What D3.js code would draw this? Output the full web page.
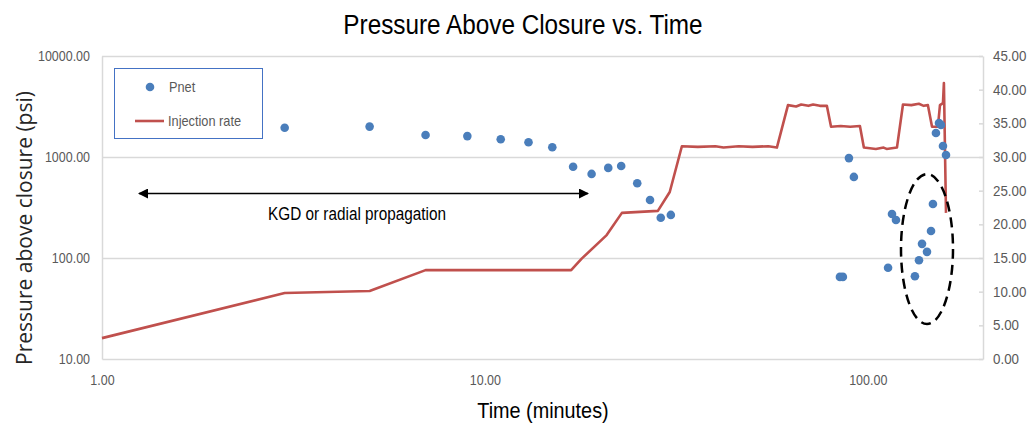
<!DOCTYPE html>
<html>
<head>
<meta charset="utf-8">
<script src="https://cdn.jsdelivr.net/npm/d3@7"></script>
<style>
  html, body { margin: 0; padding: 0; background: #ffffff; }
  svg { display: block; }
</style>
</head>
<body>
<svg id="chart" width="1029" height="427"></svg>
<script>
// Net pressure above closure (left, log axis) and pump rate (right axis) vs. time (log axis)
const pnetTime = [3, 5, 7, 9, 11, 13, 15, 17, 19, 21, 22.7, 25, 27, 28.8, 30.6,
  84.6, 86.1, 89.3, 92, 113, 115.7, 118.5, 132.8, 136.1, 138.6, 142.8, 146.3, 148,
  150.7, 153.5, 155.3, 157.2, 160.1];
const pnetValue = [1950, 2000, 1650, 1610, 1500, 1400, 1250, 800, 680, 780, 815, 550, 375, 250, 267,
  65, 65, 975, 635, 80, 273, 238, 66, 95, 138, 115, 185, 343,
  1730, 2170, 2080, 1285, 1045];

const rateTime = [1, 3, 5, 7, 16.8, 17.9, 20.8, 22.8, 28.3, 30.4, 32.7,
  36, 40, 42, 46, 50, 55, 57.9, 61.9, 65, 67, 70, 72, 75, 78.2,
  80.2, 85, 90, 95.4, 97.7, 105, 110, 112, 119.2,
  123.6, 130, 136, 140, 143.6, 147.2, 152.5, 154.4, 157.2, 158.1, 160.1];
const rateValue = [3.1, 9.8, 10.1, 13.2, 13.2, 14.9, 18.4, 21.7, 22.0, 24.8, 31.6,
  31.5, 31.6, 31.4, 31.6, 31.5, 31.6, 31.4, 37.7, 37.5, 37.8, 37.6, 37.8, 37.6, 37.6,
  34.5, 34.6, 34.5, 34.6, 31.4, 31.2, 31.4, 31.2, 31.4,
  37.8, 37.7, 37.9, 37.6, 37.7, 34.5, 34.5, 37.7, 38.0, 41.0, 21.7];

const xTicks = [1, 10, 100];
const leftTicks = [10, 100, 1000, 10000];
const rightTicks = [0, 5, 10, 15, 20, 25, 30, 35, 40, 45];

const svg = d3.select("#chart");
const sans = "'Liberation Sans', Arial, sans-serif";

// Condense a text selection horizontally (narrow face look)
function condense(sel, factor) {
  sel.each(function () {
    const len = this.getComputedTextLength();
    d3.select(this).attr("textLength", len * factor).attr("lengthAdjust", "spacingAndGlyphs");
  });
}

const plot = { left: 102, right: 983, top: 56, bottom: 359 };

const x = d3.scaleLog().domain([1, 200]).range([plot.left, plot.right]);
const yL = d3.scaleLog().domain([10, 10000]).range([plot.bottom, plot.top]);
const yR = d3.scaleLinear().domain([0, 45]).range([plot.bottom, plot.top]);

// Horizontal gridlines at the left-axis decades
svg.append("g")
  .selectAll("line")
  .data(leftTicks.slice(1))
  .join("line")
  .attr("x1", plot.left).attr("x2", plot.right)
  .attr("y1", d => Math.round(yL(d)) + 0.5).attr("y2", d => Math.round(yL(d)) + 0.5)
  .attr("stroke", "#d9d9d9").attr("stroke-width", 1.5);

// Left axis (labels only, line in light gray)
const leftAxis = d3.axisLeft(yL).tickValues(leftTicks).tickSize(0).tickPadding(12)
  .tickFormat(d3.format(".2f"));
const gL = svg.append("g").attr("transform", `translate(${plot.left},0)`).call(leftAxis);
gL.select(".domain").attr("stroke", "#d9d9d9").attr("stroke-width", 1.5);
gL.selectAll("text").attr("font-family", sans).attr("font-size", 14.5).attr("fill", "#595959")
  .call(condense, 0.86);

// Right axis
const rightAxis = d3.axisRight(yR).tickValues(rightTicks).tickSize(0).tickPadding(10)
  .tickFormat(d3.format(".2f"));
const gR = svg.append("g").attr("transform", `translate(${plot.right},0)`).call(rightAxis);
gR.select(".domain").attr("stroke", "#d9d9d9").attr("stroke-width", 1.5);
gR.selectAll("text").attr("font-family", sans).attr("font-size", 14.5).attr("fill", "#595959")
  .call(condense, 0.92);
gR.selectAll(".tick").append("line")
  .attr("x1", -4).attr("x2", 0).attr("stroke", "#d9d9d9").attr("stroke-width", 1.5);

// Bottom axis
const bottomAxis = d3.axisBottom(x).tickValues(xTicks).tickSize(0).tickPadding(16)
  .tickFormat(d3.format(".2f"));
const gB = svg.append("g").attr("transform", `translate(0,${plot.bottom})`).call(bottomAxis);
gB.select(".domain").attr("stroke", "#d9d9d9").attr("stroke-width", 1.5);
gB.selectAll("text").attr("font-family", sans).attr("font-size", 14.5).attr("fill", "#595959")
  .call(condense, 0.86);

// Injection rate line
const rateLine = d3.line()
  .x((d, i) => x(rateTime[i]))
  .y(d => yR(d));
svg.append("path")
  .datum(rateValue)
  .attr("d", rateLine)
  .attr("fill", "none")
  .attr("stroke", "#c0504d")
  .attr("stroke-width", 2.6)
  .attr("stroke-linejoin", "round");

// Pnet points
svg.append("g")
  .selectAll("circle")
  .data(pnetValue)
  .join("circle")
  .attr("cx", (d, i) => x(pnetTime[i]))
  .attr("cy", d => yL(d))
  .attr("r", 4.3)
  .attr("fill", "#4a7ebb");

// Legend
const legend = svg.append("g");
legend.append("rect")
  .attr("x", 114.5).attr("y", 68.5).attr("width", 148).attr("height", 70)
  .attr("fill", "#ffffff").attr("stroke", "#4472c4").attr("stroke-width", 1);
legend.append("circle").attr("cx", 150).attr("cy", 87).attr("r", 4.3).attr("fill", "#4a7ebb");
legend.append("text").attr("x", 169).attr("y", 87).attr("dy", "0.35em")
  .attr("font-family", sans).attr("font-size", 14.5).attr("fill", "#595959").text("Pnet")
  .call(condense, 0.88);
legend.append("line").attr("x1", 135).attr("x2", 164).attr("y1", 121).attr("y2", 121)
  .attr("stroke", "#c0504d").attr("stroke-width", 2.6);
legend.append("text").attr("x", 168).attr("y", 121).attr("dy", "0.35em")
  .attr("font-family", sans).attr("font-size", 14.5).attr("fill", "#595959").text("Injection rate")
  .call(condense, 0.88);

// Propagation regime annotation: double-headed arrow with label
const defs = svg.append("defs");
defs.append("marker").attr("id", "ah").attr("viewBox", "0 0 10 10")
  .attr("refX", 9).attr("refY", 5).attr("markerWidth", 10).attr("markerHeight", 10)
  .attr("markerUnits", "userSpaceOnUse").attr("orient", "auto-start-reverse")
  .append("path").attr("d", "M0,0 L10,5 L0,10 Z").attr("fill", "#000");
svg.append("line")
  .attr("x1", 139).attr("x2", 588).attr("y1", 193.5).attr("y2", 193.5)
  .attr("stroke", "#000").attr("stroke-width", 1.5)
  .attr("marker-start", "url(#ah)").attr("marker-end", "url(#ah)");
svg.append("text").attr("x", 357).attr("y", 214).attr("dy", "0.35em")
  .attr("text-anchor", "middle").attr("font-family", sans).attr("font-size", 17.5)
  .attr("fill", "#000").text("KGD or radial propagation")
  .call(condense, 0.875);

// Dashed ellipse around the late-time cluster
svg.append("ellipse")
  .attr("cx", 927).attr("cy", 249).attr("rx", 26).attr("ry", 75)
  .attr("fill", "none").attr("stroke", "#000").attr("stroke-width", 2.5)
  .attr("stroke-dasharray", "10,6");

// Titles
svg.append("text").attr("x", 523).attr("y", 25).attr("dy", "0.35em")
  .attr("text-anchor", "middle").attr("font-family", sans).attr("font-size", 27)
  .attr("fill", "#000").text("Pressure Above Closure vs. Time")
  .call(condense, 0.9);
svg.append("text").attr("x", 543).attr("y", 410).attr("dy", "0.35em")
  .attr("text-anchor", "middle").attr("font-family", sans).attr("font-size", 22)
  .attr("fill", "#000").text("Time (minutes)")
  .call(condense, 0.9);
svg.append("text")
  .attr("transform", "translate(25,228) rotate(-90)")
  .attr("dy", "0.35em")
  .attr("text-anchor", "middle").attr("font-family", "'Open Sans', 'DejaVu Sans', sans-serif")
  .attr("font-size", 21).attr("fill", "#262626").text("Pressure above closure (psi)");
</script>
</body>
</html>
